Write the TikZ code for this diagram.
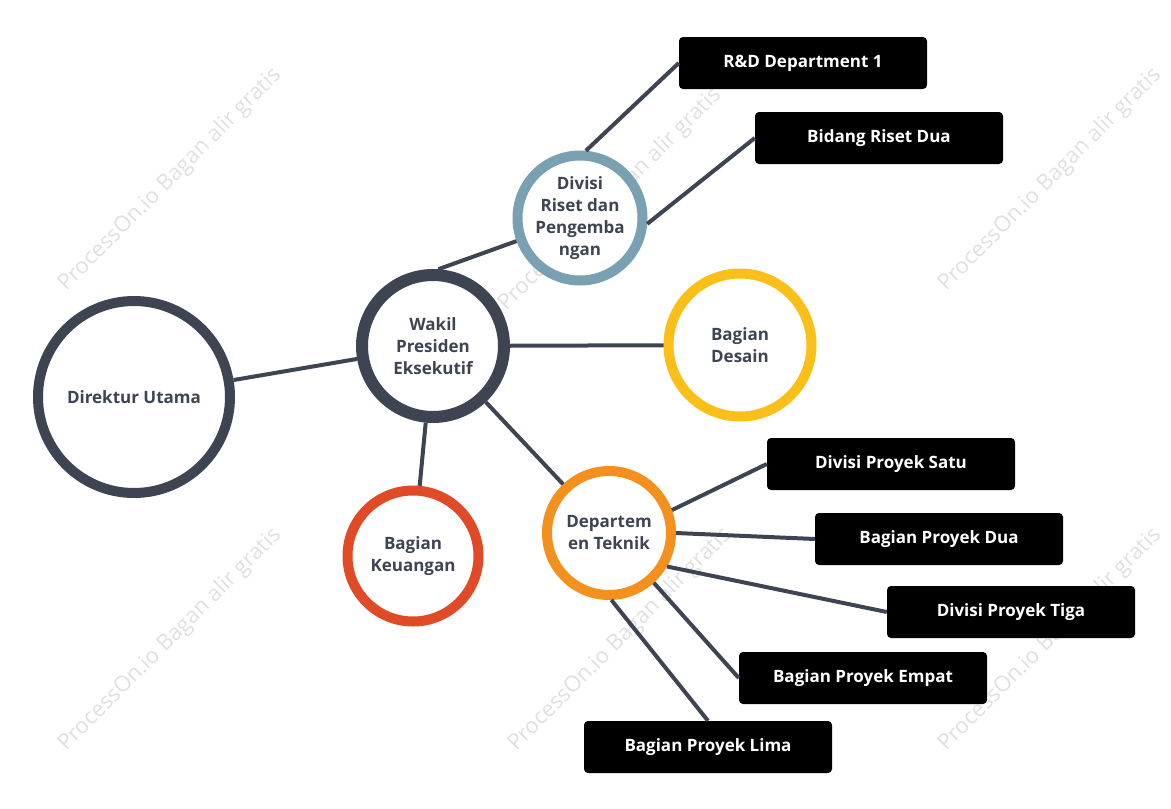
\documentclass[tikz,border=0pt]{standalone}
\usepackage{fontspec}
\setmainfont{Open Sans}
\definecolor{dk}{HTML}{3F4453}
\definecolor{cblue}{HTML}{7AA1B2}
\definecolor{cyel}{HTML}{FBBF1A}
\definecolor{cred}{HTML}{E04A26}
\definecolor{corg}{HTML}{F4901E}
\begin{document}
\begin{tikzpicture}[x=1pt,y=-1pt,
  circ/.style={circle,draw=#1,fill=white,inner sep=0pt,align=center,font=\bfseries\fontsize{17}{22}\selectfont,text=dk},
  box/.style={rectangle,rounded corners=4pt,fill=black,text=white,minimum width=248pt,minimum height=52pt,font=\bfseries\fontsize{17}{20}\selectfont},
  con/.style={draw=dk,line width=4pt},
  wm/.style={rotate=45,text=black!12,font=\fontsize{22}{26}\selectfont}]
\useasboundingbox (0,0) rectangle (1171,809);
\foreach \p/\q in {170/180,610/200,1050/180,170/640,620/640,1050/640}
  \node[wm] (w\p\q) at (\p,\q) {ProcessOn.io Bagan alir gratis};
\node[circ=dk,line width=10pt,minimum size=192pt] (dir) at (134,397) {Direktur Utama};
\node[circ=dk,line width=12pt,minimum size=142pt] (wak) at (433,346) {Wakil\\Presiden\\Eksekutif};
\node[circ=cblue,line width=10pt,minimum size=125pt] (div) at (580,218) {Divisi\\Riset dan\\Pengemba\\ngan};
\node[circ=cyel,line width=10pt,minimum size=143pt] (des) at (740,345) {Bagian\\Desain};
\node[circ=cred,line width=10pt,minimum size=131pt] (keu) at (413,556) {Bagian\\Keuangan};
\node[circ=corg,line width=10pt,minimum size=124pt] (tek) at (609,533) {Departem\\en Teknik};
\node[box] (b1) at (803,63) {R\&D Department 1};
\node[box] (b2) at (879,138) {Bidang Riset Dua};
\node[box] (b3) at (891,464) {Divisi Proyek Satu};
\node[box] (b4) at (939,539) {Bagian Proyek Dua};
\node[box] (b5) at (1011,612) {Divisi Proyek Tiga};
\node[box] (b6) at (863,678) {Bagian Proyek Empat};
\node[box] (b7) at (708,747) {Bagian Proyek Lima};
\draw[con] (dir) -- (wak);
\draw[con] (wak.86) -- (div.200);
\draw[con] (wak) -- (des);
\draw[con] (wak) -- (keu);
\draw[con] (wak) -- (tek);
\draw[con] (div.85) -- (b1.west);
\draw[con] (div.-5) -- (b2.west);
\draw[con] (tek.20) -- (b3.west);
\draw[con] (tek.0) -- (b4.west);
\draw[con] (tek.-30) -- (b5.west);
\draw[con] (tek.-48) -- (b6.west);
\draw[con] (tek.-88) -- (b7.north);
\end{tikzpicture}
\end{document}
